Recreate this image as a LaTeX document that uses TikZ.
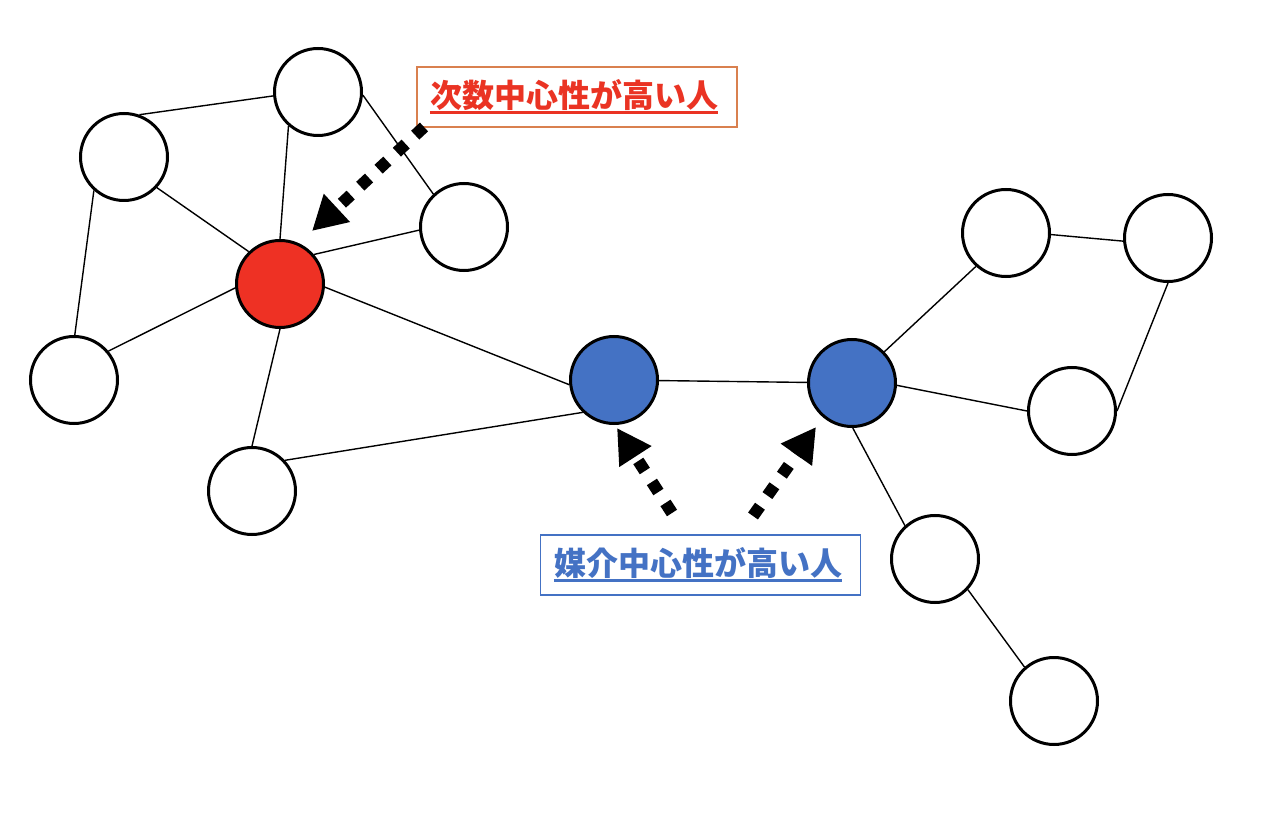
\documentclass[tikz,border=0pt]{standalone}
\usepackage{fontspec}
\newfontfamily\cjk{Noto Sans CJK JP}
\usetikzlibrary{arrows.meta}
\definecolor{nred}{HTML}{EE3124}
\definecolor{nblue}{HTML}{4472C4}
\definecolor{tred}{HTML}{EA3323}
\definecolor{bord}{HTML}{D9804F}
\tikzset{
  person/.style={circle,draw=black,line width=3pt,minimum size=87pt,inner sep=0pt,fill=white},
  tie/.style={line width=1.4pt,black},
  pointer/.style={line width=12pt,dash pattern=on 12pt off 13pt,-{Triangle[length=34pt,width=36pt]}},
  labelbox/.style={draw,line width=1.5pt,minimum width=320pt,minimum height=60pt,inner sep=0pt,fill=white},
  labeltext/.style={inner sep=0pt,font=\cjk\bfseries\fontsize{32pt}{34pt}\selectfont},
  uline/.style={line width=2.5pt}
}
\begin{document}
\begin{tikzpicture}[x=1pt,y=-1pt]
\useasboundingbox (0,0) rectangle (1278,826);
\fill[white] (0,0) rectangle (1278,826);
\node[person] (A) at (318,92) {};
\node[person] (B) at (124,157) {};
\node[person] (C) at (464,227) {};
\node[person,fill=nred] (R) at (280,284) {};
\node[person] (D) at (74,380) {};
\node[person] (E) at (252,491) {};
\node[person,fill=nblue] (M1) at (614,380) {};
\node[person,fill=nblue] (M2) at (852,383) {};
\node[person] (F) at (1006,233) {};
\node[person] (G) at (1168,238) {};
\node[person] (H) at (1072,411) {};
\node[person] (I) at (935,559) {};
\node[person] (J) at (1054,701) {};
\draw[tie] (B.70) -- (A.185);
\draw[tie] (A.229) -- (R.90);
\draw[tie] (A.-4) -- (C.133);
\draw[tie] (B.-43) -- (R.134);
\draw[tie] (B.228) -- (D.89);
\draw[tie] (R.41) -- (C.184);
\draw[tie] (R.185) -- (D.40);
\draw[tie] (R.270) -- (E.90);
\draw[tie] (R.-4) -- (M1.186);
\draw[tie] (E.43) -- (M1.226);
\draw[tie] (M1) -- (M2);
\draw[tie] (M2.44) -- (F.228);
\draw[tie] (M2.-3) -- (H.180);
\draw[tie] (M2.271) -- (I.132);
\draw[tie] (F.-2) -- (G.184);
\draw[tie] (G.270) -- (H.0);
\draw[tie] (I.-43) -- (J.131);
\node[labelbox,draw=bord] (L1) at (577,97) {};
\node[labeltext,text=tred] (T1) at (574,95) {次数中心性が高い人};
\draw[uline,tred] ([yshift=-5pt]T1.base west) -- ([yshift=-5pt]T1.base east);
\node[labelbox,draw=nblue] (L2) at (700.5,565) {};
\node[labeltext,text=nblue] (T2) at (698,563) {媒介中心性が高い人};
\draw[uline,nblue] ([yshift=-5pt]T2.base west) -- ([yshift=-5pt]T2.base east);
\coordinate (s1) at (424,127);
\coordinate (t1) at (312,231);
\coordinate (s2) at (672,513);
\coordinate (t2) at (617,428);
\coordinate (s3) at (753,516);
\coordinate (t3) at (816,427);
\draw[pointer] (s1) -- (t1);
\draw[pointer] (s2) -- (t2);
\draw[pointer] (s3) -- (t3);
\end{tikzpicture}
\end{document}
